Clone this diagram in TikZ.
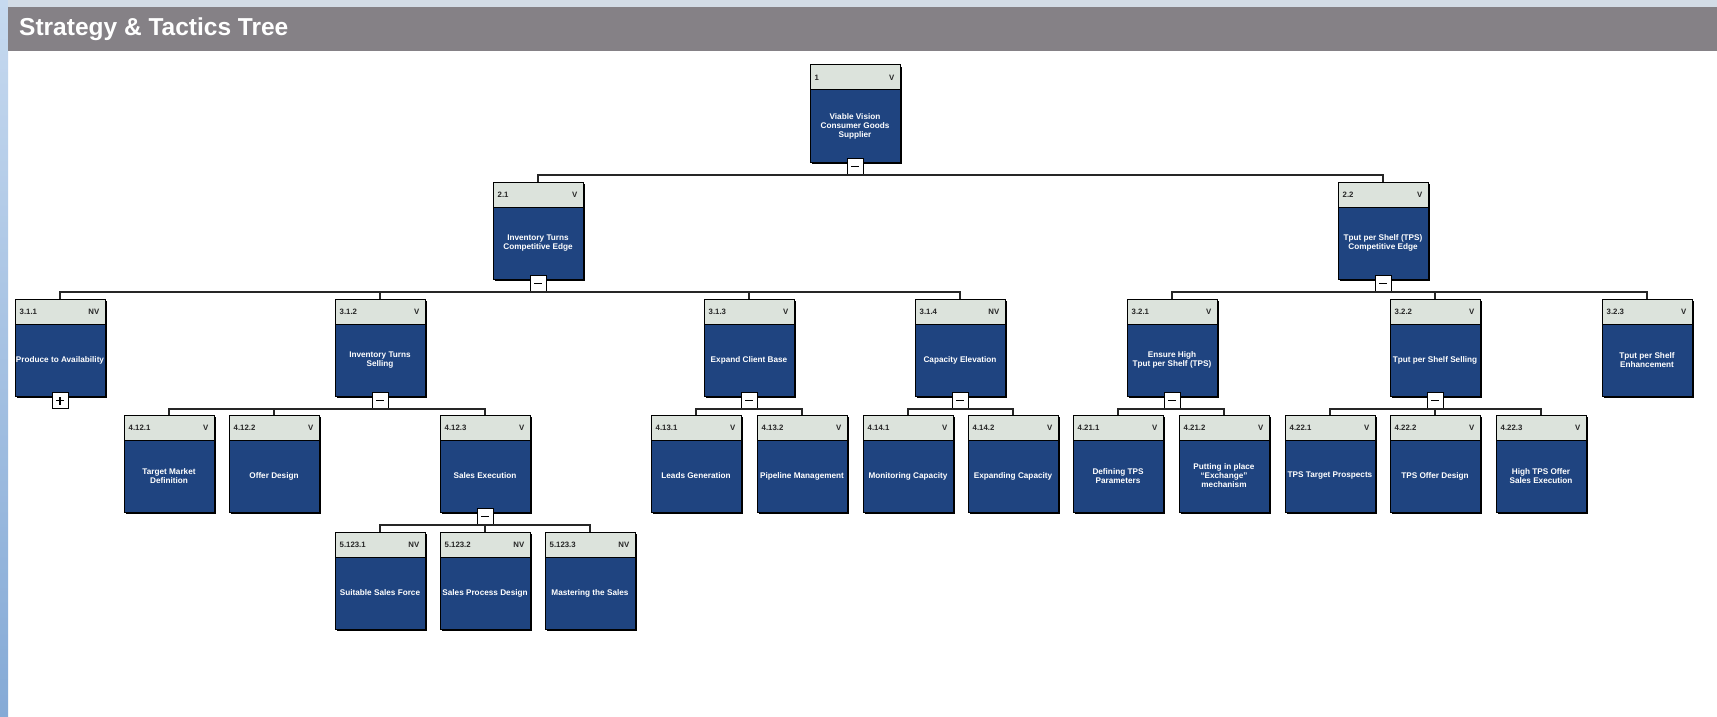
\documentclass[tikz,border=0pt]{standalone}
\usepackage{fontspec}
\setmainfont{Liberation Sans}
\usetikzlibrary{shadows}

\definecolor{boxblue}{HTML}{1F4480}
\definecolor{headgray}{HTML}{DCE3DC}
\definecolor{barcolor}{HTML}{858186}
\definecolor{framelight}{HTML}{C6D9EF}
\definecolor{framedark}{HTML}{85AAD6}
\definecolor{topstrip}{HTML}{D3DCE6}

\tikzset{
	taskbox/.style={fill=boxblue, draw=black, line width=1pt, minimum width=90pt, minimum height=97pt, inner sep=0pt,
		general shadow={fill=black, shadow xshift=2pt, shadow yshift=-2pt}},
	boxhead/.style={fill=headgray, draw=black, line width=1pt, minimum width=90pt, minimum height=25pt, inner sep=0pt},
	idlabel/.style={inner sep=0pt, text=black!85, font=\fontsize{7.8}{8}\selectfont\bfseries},
	bodylabel/.style={inner sep=0pt, text=white, align=center, font=\fontsize{8.2}{9}\selectfont\bfseries},
	togglebtn/.style={fill=white, draw=black, line width=1pt, minimum size=16pt, inner sep=0pt},
	minusbtn/.style={togglebtn, path picture={
		\draw[line width=1.5pt] ([xshift=-4pt]path picture bounding box.center) -- ([xshift=4pt]path picture bounding box.center);}},
	plusbtn/.style={togglebtn, path picture={
		\draw[line width=1.5pt] ([xshift=-4pt]path picture bounding box.center) -- ([xshift=4pt]path picture bounding box.center);
		\draw[line width=1.5pt] ([yshift=-4pt]path picture bounding box.center) -- ([yshift=4pt]path picture bounding box.center);}},
	link/.style={draw=black!85, line width=1.2pt},
	titletext/.style={inner sep=0pt, text=white, font=\fontsize{24.5}{27}\selectfont\bfseries}
}

% box: name, centre x, top y, id, tag, text
\def\taskbox(#1)(#2,#3)[#4:#5]#6{%
	\node[taskbox] (#1) at (#2,#3+48.5) {};
	\node[boxhead, anchor=north] (#1-h) at (#1.north) {};
	\node[idlabel, anchor=west] at ([xshift=5pt]#1-h.west) {#4};
	\node[idlabel, anchor=east] at ([xshift=-6pt]#1-h.east) {#5};
	\node[bodylabel] at ([yshift=-12.5pt]#1.center) {#6};
}

\begin{document}
\begin{tikzpicture}[x=1pt, y=-1pt]
	%%%%% FRAME %%%%%
	\useasboundingbox (0,0) rectangle (1717,717);
	\fill[white] (0,0) rectangle (1717,717);
	\shade[top color=framelight, bottom color=framedark] (0,0) rectangle (8,717);
	\fill[topstrip] (8,0) rectangle (1717,7);
	\fill[barcolor] (8,7) rectangle (1717,51);
	\node[titletext, anchor=west] (title) at (19,29) {Strategy \& Tactics Tree};
	
	%%%%% LEVEL 1 %%%%%
	\taskbox(t1)(855,65)[1:V]{Viable Vision\\Consumer Goods\\Supplier}
	
	%%%%% LEVEL 2 %%%%%
	\taskbox(t21)(538,182)[2.1:V]{Inventory Turns\\Competitive Edge}
	\taskbox(t22)(1383,182)[2.2:V]{Tput per Shelf (TPS)\\Competitive Edge}
	
	%%%%% LEVEL 3 %%%%%
	\taskbox(t311)(60,299)[3.1.1:NV]{Produce to Availability}
	\taskbox(t312)(380,299)[3.1.2:V]{Inventory Turns\\Selling}
	\taskbox(t313)(749,299)[3.1.3:V]{Expand Client Base}
	\taskbox(t314)(960,299)[3.1.4:NV]{Capacity Elevation}
	\taskbox(t321)(1172,299)[3.2.1:V]{Ensure High\\Tput per Shelf (TPS)}
	\taskbox(t322)(1435,299)[3.2.2:V]{Tput per Shelf Selling}
	\taskbox(t323)(1647,299)[3.2.3:V]{Tput per Shelf\\Enhancement}
	
	%%%%% LEVEL 4 %%%%%
	\taskbox(t4121)(169,415)[4.12.1:V]{Target Market\\Definition}
	\taskbox(t4122)(274,415)[4.12.2:V]{Offer Design}
	\taskbox(t4123)(485,415)[4.12.3:V]{Sales Execution}
	\taskbox(t4131)(696,415)[4.13.1:V]{Leads Generation}
	\taskbox(t4132)(802,415)[4.13.2:V]{Pipeline Management}
	\taskbox(t4141)(908,415)[4.14.1:V]{Monitoring Capacity}
	\taskbox(t4142)(1013,415)[4.14.2:V]{Expanding Capacity}
	\taskbox(t4211)(1118,415)[4.21.1:V]{Defining TPS\\Parameters}
	\taskbox(t4212)(1224,415)[4.21.2:V]{Putting in place\\``Exchange''\\mechanism}
	\taskbox(t4221)(1330,415)[4.22.1:V]{TPS Target Prospects}
	\taskbox(t4222)(1435,415)[4.22.2:V]{TPS Offer Design}
	\taskbox(t4223)(1541,415)[4.22.3:V]{High TPS Offer\\Sales Execution}
	
	%%%%% LEVEL 5 %%%%%
	\taskbox(t51231)(380,532)[5.123.1:NV]{Suitable Sales Force}
	\taskbox(t51232)(485,532)[5.123.2:NV]{Sales Process Design}
	\taskbox(t51233)(590,532)[5.123.3:NV]{Mastering the Sales}
	
	%%%%% BUTTONS %%%%%
	\foreach \b in {t1,t21,t22,t312,t313,t314,t321,t322,t4123}
		\node[minusbtn] (\b-t) at ([yshift=-4pt]\b.south) {};
	\node[plusbtn] (t311-t) at ([yshift=-4pt]t311.south) {};
	
	%%%%% LINKS %%%%%
	\foreach \c in {t21,t22}
		\draw[link] (t1-t.south) -| (\c.north);
	\foreach \c in {t311,t312,t313,t314}
		\draw[link] (t21-t.south) -| (\c.north);
	\foreach \c in {t321,t322,t323}
		\draw[link] (t22-t.south) -| (\c.north);
	\foreach \c in {t4121,t4122,t4123}
		\draw[link] (t312-t.south) -| (\c.north);
	\foreach \c in {t4131,t4132}
		\draw[link] (t313-t.south) -| (\c.north);
	\foreach \c in {t4141,t4142}
		\draw[link] (t314-t.south) -| (\c.north);
	\foreach \c in {t4211,t4212}
		\draw[link] (t321-t.south) -| (\c.north);
	\foreach \c in {t4221,t4222,t4223}
		\draw[link] (t322-t.south) -| (\c.north);
	\foreach \c in {t51231,t51232,t51233}
		\draw[link] (t4123-t.south) -| (\c.north);
\end{tikzpicture}
\end{document}
